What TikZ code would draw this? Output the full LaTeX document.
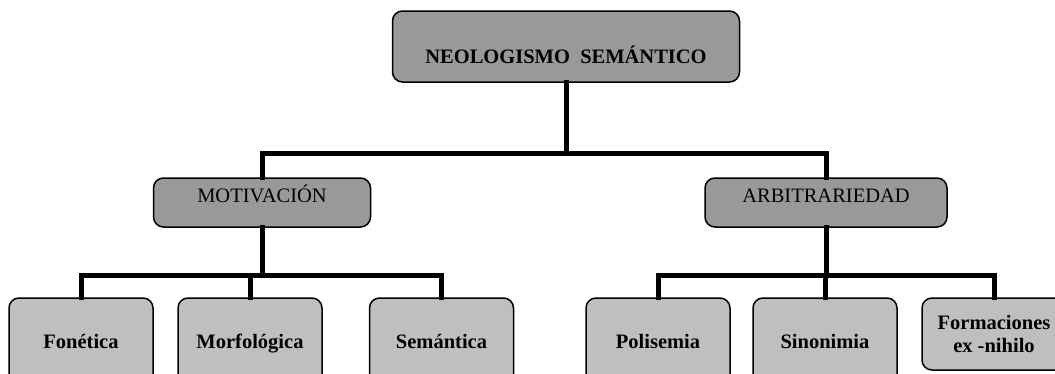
\documentclass[tikz,border=0pt]{standalone}
\usepackage{fontspec}
\setmainfont{Liberation Serif}
\usepackage{tikz}
\usetikzlibrary{calc}

\begin{document}
\begin{tikzpicture}[x=1pt,y=-1pt,bar/.style={line width=5pt,line join=miter,line cap=rect}]
    \tikzstyle{every node}=[font=\fontsize{20.5}{23}\selectfont]
    \tikzstyle{box}=[draw,line width=1.5pt,rounded corners=10pt,inner sep=0pt,align=center]
    \tikzstyle{headbox}=[box,fill=black!40,minimum width=347pt,minimum height=71pt,text height=35pt,text depth=2pt,font=\fontsize{20.5}{23}\selectfont\bfseries]
    \tikzstyle{midbox}=[box,fill=black!40,minimum height=49pt,text height=10pt,text depth=10pt]
    \tikzstyle{leafbox}=[box,fill=black!25,minimum width=144pt,minimum height=88pt,font=\fontsize{20.5}{23}\selectfont\bfseries]
    \tikzstyle{oneline}=[text height=16pt,text depth=4pt]
    \useasboundingbox (0,0) rectangle (1055,373);
    \node[headbox] (top) at (566, 46.5) {NEOLOGISMO\ \ SEMÁNTICO};
    \node[midbox, minimum width=217pt] (mot) at (262, 202.5) {MOTIVACIÓN};
    \node[midbox, minimum width=242pt] (arb) at (826, 202.5) {ARBITRARIEDAD};
    \node[leafbox, oneline] (fon) at (81, 342) {Fonética};
    \node[leafbox, oneline] (mor) at (250, 342) {Morfológica};
    \node[leafbox, oneline] (sem) at (441.5, 342) {Semántica};
    \node[leafbox, oneline] (pol) at (658, 342) {Polisemia};
    \node[leafbox, oneline] (sin) at (825, 342) {Sinonimia};
    \node[leafbox, minimum height=72pt] (for) at (994, 334) {Formaciones\\ex -nihilo};
    \coordinate (lev1) at (0, 153);
    \coordinate (lev2) at (0, 275);
    % first level
    \draw[bar] (top.south) -- (top.south |- lev1);
    \draw[bar] (mot.north) |- (top.south |- lev1) -| (arb.north);
    % motivacion
    \draw[bar] (mot.south) -- (mot.south |- lev2);
    \draw[bar] (fon.north) |- (mot.south |- lev2) -| (sem.north);
    \draw[bar] (mor.north) -- (mor.north |- lev2);
    % arbitrariedad
    \draw[bar] (arb.south) -- (arb.south |- lev2);
    \draw[bar] (pol.north) |- (arb.south |- lev2) -| (for.north);
    \draw[bar] (sin.north) -- (sin.north |- lev2);
\end{tikzpicture}
\end{document}
